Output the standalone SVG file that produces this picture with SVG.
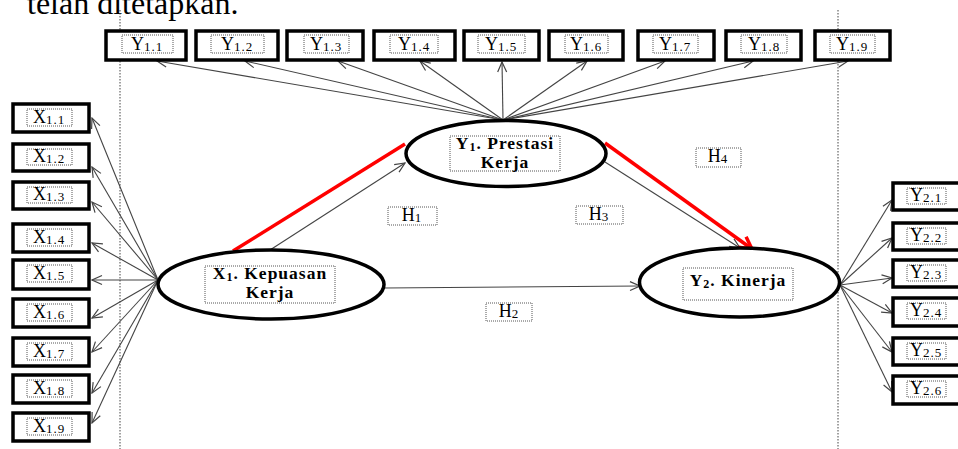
<svg xmlns="http://www.w3.org/2000/svg" width="958" height="449" viewBox="0 0 958 449">
<defs>
<style>
.bx{fill:#fff;stroke:#000;stroke-width:3.5}
.lb{fill:none;stroke:#555;stroke-width:1;stroke-dasharray:1 1}
.t{font-family:"Liberation Serif","DejaVu Serif",serif;font-size:18px;fill:#000;text-anchor:middle}
.s{font-size:13px;letter-spacing:1px}
.el{fill:#fff;stroke:#000;stroke-width:3.5}
.et{font-family:"Liberation Serif","DejaVu Serif",serif;font-size:17.5px;font-weight:bold;fill:#000;text-anchor:middle;letter-spacing:1px}
.ln{stroke:#444;stroke-width:1.1;fill:none;marker-end:url(#ah)}
.vl{stroke:#444;stroke-width:1;stroke-dasharray:1.5 1.5}
.red{stroke:#f00;stroke-width:3.5;fill:none}
</style>
<marker id="ah" viewBox="0 0 12 12" refX="11" refY="6" markerWidth="12" markerHeight="12" markerUnits="userSpaceOnUse" orient="auto">
<polyline points="1,1.5 11,6 1,10.5" fill="none" stroke="#444" stroke-width="1.2"/>
</marker>
<marker id="rh" viewBox="0 0 16 16" refX="14" refY="8" markerWidth="16" markerHeight="16" markerUnits="userSpaceOnUse" orient="auto">
<polyline points="2,1.5 14,8 2,14.5" fill="none" stroke="#f00" stroke-width="3.5"/>
</marker>
</defs>
<rect width="958" height="449" fill="#fff"/>
<text x="27" y="14" font-family="Liberation Serif, serif" font-size="32" fill="#000">telah ditetapkan.</text>
<g id="guides">
<line class="vl" x1="120" y1="10" x2="120" y2="449"/>
<line class="vl" x1="838" y1="10" x2="838" y2="449"/>
</g>
<g id="connectors">
<line class="ln" x1="503" y1="120" x2="157" y2="61"/>
<line class="ln" x1="503" y1="120" x2="245" y2="61"/>
<line class="ln" x1="503" y1="120" x2="338" y2="61"/>
<line class="ln" x1="503" y1="120" x2="420" y2="61"/>
<line class="ln" x1="503" y1="120" x2="502" y2="62"/>
<line class="ln" x1="503" y1="120" x2="587" y2="61"/>
<line class="ln" x1="503" y1="120" x2="665" y2="61"/>
<line class="ln" x1="503" y1="120" x2="753" y2="61"/>
<line class="ln" x1="503" y1="120" x2="848" y2="61"/>
<line class="ln" x1="158" y1="280" x2="92" y2="118"/>
<line class="ln" x1="158" y1="280" x2="92" y2="167"/>
<line class="ln" x1="158" y1="280" x2="92" y2="202"/>
<line class="ln" x1="158" y1="280" x2="92" y2="243"/>
<line class="ln" x1="158" y1="280" x2="92" y2="280"/>
<line class="ln" x1="158" y1="280" x2="92" y2="318"/>
<line class="ln" x1="158" y1="280" x2="92" y2="352"/>
<line class="ln" x1="158" y1="280" x2="92" y2="393"/>
<line class="ln" x1="158" y1="280" x2="92" y2="423"/>
<line class="ln" x1="840" y1="285" x2="892" y2="200"/>
<line class="ln" x1="840" y1="285" x2="892" y2="238"/>
<line class="ln" x1="840" y1="285" x2="892" y2="278"/>
<line class="ln" x1="840" y1="285" x2="892" y2="313"/>
<line class="ln" x1="840" y1="285" x2="892" y2="352"/>
<line class="ln" x1="840" y1="285" x2="892" y2="392"/>
<line class="ln" x1="270" y1="250" x2="405" y2="163"/>
<line class="ln" x1="385" y1="288" x2="640" y2="286"/>
<line class="ln" x1="605" y1="162" x2="740" y2="248"/>
<line class="red" x1="233" y1="251" x2="405" y2="144"/>
<line class="red" x1="605" y1="143" x2="752" y2="249" marker-end="url(#rh)"/>
</g>
<g id="Y1_1"><rect class="bx" x="106" y="31" width="80" height="29"/><rect class="lb" x="122" y="35" width="51" height="18"/><text class="t" x="147" y="50">Y<tspan class="s" dy="1">1.1</tspan></text></g>
<g id="Y1_2"><rect class="bx" x="196" y="31" width="82" height="29"/><rect class="lb" x="211" y="35" width="53" height="18"/><text class="t" x="237" y="50">Y<tspan class="s" dy="1">1.2</tspan></text></g>
<g id="Y1_3"><rect class="bx" x="287" y="31" width="76" height="29"/><rect class="lb" x="304" y="35" width="45" height="18"/><text class="t" x="326" y="50">Y<tspan class="s" dy="1">1.3</tspan></text></g>
<g id="Y1_4"><rect class="bx" x="374" y="31" width="81" height="29"/><rect class="lb" x="390" y="35" width="48" height="18"/><text class="t" x="414" y="50">Y<tspan class="s" dy="1">1.4</tspan></text></g>
<g id="Y1_5"><rect class="bx" x="464" y="31" width="75" height="29"/><rect class="lb" x="478" y="35" width="47" height="18"/><text class="t" x="501" y="50">Y<tspan class="s" dy="1">1.5</tspan></text></g>
<g id="Y1_6"><rect class="bx" x="549" y="31" width="74" height="29"/><rect class="lb" x="565" y="35" width="43" height="18"/><text class="t" x="586" y="50">Y<tspan class="s" dy="1">1.6</tspan></text></g>
<g id="Y1_7"><rect class="bx" x="638" y="31" width="76" height="29"/><rect class="lb" x="653" y="35" width="45" height="18"/><text class="t" x="675" y="50">Y<tspan class="s" dy="1">1.7</tspan></text></g>
<g id="Y1_8"><rect class="bx" x="726" y="31" width="75" height="29"/><rect class="lb" x="741" y="35" width="46" height="18"/><text class="t" x="764" y="50">Y<tspan class="s" dy="1">1.8</tspan></text></g>
<g id="Y1_9"><rect class="bx" x="815" y="31" width="75" height="29"/><rect class="lb" x="830" y="35" width="45" height="18"/><text class="t" x="852" y="50">Y<tspan class="s" dy="1">1.9</tspan></text></g>
<g id="X1_1"><rect class="bx" x="13" y="104" width="76" height="28"/><rect class="lb" x="27" y="109" width="45" height="17"/><text class="t" x="49" y="123">X<tspan class="s" dy="1">1.1</tspan></text></g>
<g id="X1_2"><rect class="bx" x="13" y="144" width="76" height="27"/><rect class="lb" x="27" y="149" width="45" height="16"/><text class="t" x="49" y="162">X<tspan class="s" dy="1">1.2</tspan></text></g>
<g id="X1_3"><rect class="bx" x="13" y="182" width="76" height="27"/><rect class="lb" x="27" y="187" width="45" height="16"/><text class="t" x="49" y="200">X<tspan class="s" dy="1">1.3</tspan></text></g>
<g id="X1_4"><rect class="bx" x="13" y="224" width="76" height="28"/><rect class="lb" x="27" y="229" width="45" height="17"/><text class="t" x="49" y="243">X<tspan class="s" dy="1">1.4</tspan></text></g>
<g id="X1_5"><rect class="bx" x="13" y="260" width="76" height="29"/><rect class="lb" x="27" y="265" width="45" height="17"/><text class="t" x="49" y="279">X<tspan class="s" dy="1">1.5</tspan></text></g>
<g id="X1_6"><rect class="bx" x="13" y="299" width="76" height="28"/><rect class="lb" x="27" y="304" width="45" height="17"/><text class="t" x="49" y="318">X<tspan class="s" dy="1">1.6</tspan></text></g>
<g id="X1_7"><rect class="bx" x="13" y="338" width="76" height="28"/><rect class="lb" x="27" y="343" width="45" height="17"/><text class="t" x="49" y="357">X<tspan class="s" dy="1">1.7</tspan></text></g>
<g id="X1_8"><rect class="bx" x="13" y="375" width="76" height="28"/><rect class="lb" x="27" y="380" width="45" height="17"/><text class="t" x="49" y="394">X<tspan class="s" dy="1">1.8</tspan></text></g>
<g id="X1_9"><rect class="bx" x="13" y="413" width="76" height="28"/><rect class="lb" x="27" y="418" width="45" height="17"/><text class="t" x="49" y="432">X<tspan class="s" dy="1">1.9</tspan></text></g>
<g id="Y2_1"><rect class="bx" x="893" y="183" width="70" height="27"/><rect class="lb" x="907" y="188" width="39" height="16"/><text class="t" x="926" y="201">Y<tspan class="s" dy="1">2.1</tspan></text></g>
<g id="Y2_2"><rect class="bx" x="893" y="223" width="70" height="27"/><rect class="lb" x="907" y="228" width="39" height="16"/><text class="t" x="926" y="241">Y<tspan class="s" dy="1">2.2</tspan></text></g>
<g id="Y2_3"><rect class="bx" x="893" y="260" width="70" height="27"/><rect class="lb" x="907" y="265" width="39" height="16"/><text class="t" x="926" y="278">Y<tspan class="s" dy="1">2.3</tspan></text></g>
<g id="Y2_4"><rect class="bx" x="893" y="298" width="70" height="28"/><rect class="lb" x="907" y="303" width="39" height="16"/><text class="t" x="926" y="316">Y<tspan class="s" dy="1">2.4</tspan></text></g>
<g id="Y2_5"><rect class="bx" x="893" y="338" width="70" height="27"/><rect class="lb" x="907" y="343" width="39" height="16"/><text class="t" x="926" y="356">Y<tspan class="s" dy="1">2.5</tspan></text></g>
<g id="Y2_6"><rect class="bx" x="893" y="376" width="70" height="28"/><rect class="lb" x="907" y="381" width="39" height="16"/><text class="t" x="926" y="394">Y<tspan class="s" dy="1">2.6</tspan></text></g>
<g id="X1"><ellipse class="el" cx="271" cy="284.5" rx="113" ry="34.5"/><rect class="lb" x="205" y="266" width="130" height="37"/><text class="et" x="270" y="279">X<tspan font-size="12" dy="2">1</tspan><tspan dy="-2">. Kepuasan</tspan><tspan x="270" dy="19">Kerja</tspan></text></g>
<g id="Y1"><ellipse class="el" cx="506" cy="153.5" rx="100" ry="33"/><rect class="lb" x="450" y="136" width="110" height="35"/><text class="et" x="505" y="149">Y<tspan font-size="12" dy="2">1</tspan><tspan dy="-2">. Prestasi</tspan><tspan x="505" dy="19">Kerja</tspan></text></g>
<g id="Y2"><ellipse class="el" cx="739.5" cy="282.5" rx="100" ry="34.5"/><rect class="lb" x="683" y="268" width="110" height="32"/><text class="et" x="738" y="286">Y<tspan font-size="12" dy="2">2</tspan><tspan dy="-2">. Kinerja</tspan></text></g>
<g id="H1"><rect class="lb" x="388" y="207" width="49" height="18"/><text class="t" x="412" y="221">H<tspan class="s" dy="1">1</tspan></text></g>
<g id="H2"><rect class="lb" x="486" y="303" width="46" height="18"/><text class="t" x="509" y="317">H<tspan class="s" dy="1">2</tspan></text></g>
<g id="H3"><rect class="lb" x="576" y="206" width="47" height="18"/><text class="t" x="599" y="220">H<tspan class="s" dy="1">3</tspan></text></g>
<g id="H4"><rect class="lb" x="696" y="148" width="45" height="19"/><text class="t" x="718" y="162">H<tspan class="s" dy="1">4</tspan></text></g>
</svg>
